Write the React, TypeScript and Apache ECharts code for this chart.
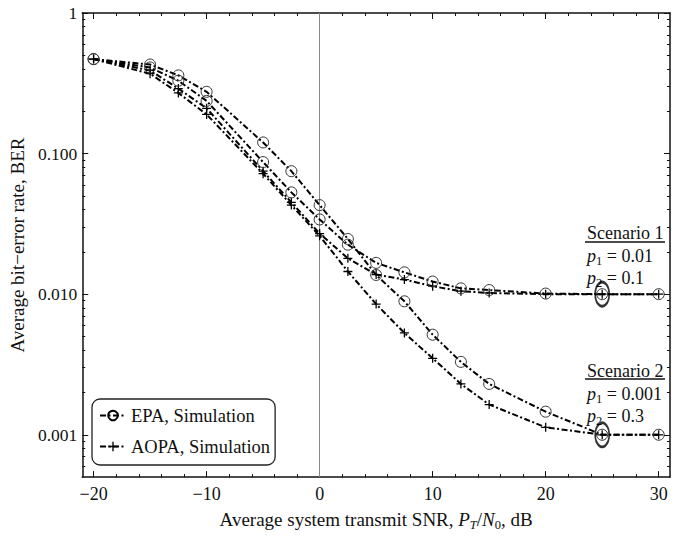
import React, { useEffect, useRef } from 'react';
import * as echarts from 'echarts';

// ---------- data ----------
const snrDb = [-20, -15, -12.5, -10, -5, -2.5, 0, 2.5, 5, 7.5, 10, 12.5, 15, 20, 25, 30];
const epaScenario1 = [0.47, 0.41, 0.33, 0.237, 0.087, 0.053, 0.034, 0.0225, 0.0167, 0.0143, 0.0123, 0.011, 0.0107, 0.0101, 0.01, 0.01];
const epaScenario2 = [0.47, 0.43, 0.36, 0.275, 0.12, 0.075, 0.043, 0.0247, 0.0137, 0.0089, 0.00515, 0.0033, 0.0023, 0.00146, 0.001, 0.001];
const aopaScenario1 = [0.47, 0.39, 0.29, 0.21, 0.075, 0.045, 0.027, 0.018, 0.0138, 0.0127, 0.0114, 0.0105, 0.0102, 0.01, 0.01, 0.01];
const aopaScenario2 = [0.47, 0.37, 0.27, 0.19, 0.072, 0.043, 0.026, 0.0145, 0.0085, 0.0053, 0.0035, 0.0023, 0.00164, 0.00113, 0.001, 0.001];
const highlighted = [[25, 0.01], [25, 0.001]];

const xMajorTicks = [-20, -10, 0, 10, 20, 30];
const xMinorTicks = [-20, -18, -16, -14, -12, -10, -8, -6, -4, -2, 0, 2, 4, 6, 8, 10, 12, 14, 16, 18, 20, 22, 24, 26, 28, 30];
const yMajorTicks = [0.001, 0.01, 0.1, 1];
const yMinorTicks = [
  0.0006, 0.0007, 0.0008, 0.0009,
  0.002, 0.003, 0.004, 0.005, 0.006, 0.007, 0.008, 0.009,
  0.02, 0.03, 0.04, 0.05, 0.06, 0.07, 0.08, 0.09,
  0.2, 0.3, 0.4, 0.5, 0.6, 0.7, 0.8, 0.9,
];
const xRange = [-21, 31];
const yRange = [0.0005, 1];

const legendNames = ['EPA, Simulation', 'AOPA, Simulation'];

// ---------- styles ----------
const FONT = '"Liberation Serif", "Times New Roman", serif';
const INK = '#111';
const dashDot = [6, 2.5, 2, 2.5];
const crossPath = 'path://M4.3,0H5.7V10H4.3Z M0,4.3H10V5.7H0Z';

const toPairs = (ys: number[]) => snrDb.map((x, i) => [x, ys[i]]);

const xAxisDef = (position: string, ticks: number[], len: number, labels: boolean, line: boolean, extra: any = {}) => ({
  type: 'value',
  min: xRange[0],
  max: xRange[1],
  position,
  axisLine: { show: line, onZero: false, lineStyle: { color: INK, width: 1.5 } },
  axisTick: { show: true, inside: true, length: len, customValues: ticks, lineStyle: { color: INK, width: 1 } },
  axisLabel: labels
    ? {
        show: true,
        customValues: ticks,
        margin: 8,
        fontFamily: FONT,
        fontSize: 18,
        color: INK,
        formatter: (v: number) => (v < 0 ? '\u2212' + Math.abs(v) : String(v)),
      }
    : { show: false },
  splitLine: { show: false },
  ...extra,
});

const yAxisDef = (position: string, ticks: number[], len: number, labels: boolean, line: boolean, extra: any = {}) => ({
  type: 'log',
  logBase: 10,
  min: yRange[0],
  max: yRange[1],
  position,
  axisLine: { show: line, onZero: false, lineStyle: { color: INK, width: 1.5 } },
  axisTick: { show: true, inside: true, length: len, customValues: ticks, lineStyle: { color: INK, width: 1 } },
  axisLabel: labels
    ? {
        show: true,
        customValues: ticks,
        margin: 5,
        fontFamily: FONT,
        fontSize: 17.5,
        color: INK,
        formatter: (v: number) => (v > 0.5 ? '1' : v.toFixed(3)),
      }
    : { show: false },
  splitLine: { show: false },
  minorTick: { show: false },
  ...extra,
});

const lineSeries = (name: string, ys: number[], kind: 'circle' | 'cross', extra: any = {}) => ({
  type: 'line',
  name,
  data: toPairs(ys),
  xAxisIndex: 0,
  yAxisIndex: 0,
  symbol: kind === 'circle' ? 'circle' : crossPath,
  symbolSize: kind === 'circle' ? 11 : 9,
  showAllSymbol: true,
  symbolKeepAspect: true,
  lineStyle: { color: '#000', width: 2, type: dashDot },
  itemStyle:
    kind === 'circle'
      ? { color: 'rgba(255,255,255,0)', borderColor: '#333', borderWidth: 1 }
      : { color: '#000', borderWidth: 0 },
  emphasis: { disabled: true },
  z: kind === 'circle' ? 4 : 3,
  ...extra,
});

const sub = { fontFamily: FONT, fontSize: 12.5, color: INK, verticalAlign: 'bottom', lineHeight: 23 };
const subIt = { ...sub, fontStyle: 'italic' };
const ital = { fontFamily: FONT, fontSize: 18, fontStyle: 'italic', color: INK, lineHeight: 20 };
const norm = { fontFamily: FONT, fontSize: 18, color: INK, lineHeight: 20 };
const nameRich = {
  i: { ...ital, fontSize: 19 },
  s: sub,
  si: subIt,
  n: { ...norm, fontSize: 19 },
};

const annoText = (x: number, y: number, text: string) => ({
  type: 'text',
  x,
  y,
  silent: true,
  style: {
    text,
    fill: INK,
    fontFamily: FONT,
    fontSize: 18,
    verticalAlign: 'middle',
    align: 'left',
    rich: { i: ital, s: sub, n: norm },
  },
});

const underline = (x1: number, x2: number, y: number) => ({
  type: 'line',
  silent: true,
  shape: { x1, y1: y, x2, y2: y },
  style: { stroke: INK, lineWidth: 1.3 },
});

export default function App() {
  const ref = useRef<HTMLDivElement>(null);

  useEffect(() => {
    const chart = echarts.init(ref.current as HTMLDivElement, null, { renderer: 'svg' });
    const option: any = {
      animation: false,
      backgroundColor: '#fff',
      grid: { left: 80, right: 11, top: 13, bottom: 53 },
      xAxis: [
        xAxisDef('bottom', xMajorTicks, 6, true, true, {
          name: '{n|Average system transmit SNR, }{i|P}{si|T}{n|/}{i|N}{s|0}{n|, dB}',
          nameLocation: 'middle',
          nameGap: 29,
          nameTextStyle: {
            fontFamily: FONT,
            fontSize: 19,
            color: INK,
            lineHeight: 20,
            rich: nameRich,
          },
        }),
        xAxisDef('bottom', xMinorTicks, 3, false, false),
        xAxisDef('top', xMajorTicks, 6, false, true),
        xAxisDef('top', xMinorTicks, 3, false, false),
      ],
      yAxis: [
        yAxisDef('left', yMajorTicks, 6, true, true, {
          name: 'Average bit\u2212error rate, BER',
          nameLocation: 'middle',
          nameGap: 52,
          nameTextStyle: { fontFamily: FONT, fontSize: 19, color: INK },
        }),
        yAxisDef('left', yMinorTicks, 3, false, false),
        yAxisDef('right', yMajorTicks, 6, false, true),
        yAxisDef('right', yMinorTicks, 3, false, false),
      ],
      legend: {
        left: 92,
        top: 399,
        orient: 'vertical',
        selectedMode: false,
        data: [
          { name: legendNames[0], itemStyle: { borderColor: '#000', borderWidth: 2 } },
          { name: legendNames[1] },
        ],
        itemWidth: 26,
        itemHeight: 12,
        itemGap: 12,
        padding: [7, 5, 9, 7],
        borderColor: '#222',
        borderWidth: 1.3,
        borderRadius: 8,
        backgroundColor: '#fff',
        textStyle: { fontFamily: FONT, fontSize: 18.5, color: INK },
      },
      series: [
        lineSeries(legendNames[0], epaScenario2, 'circle', {
          markLine: {
            silent: true,
            symbol: ['none', 'none'],
            label: { show: false },
            lineStyle: { color: '#888', width: 1, type: 'solid' },
            data: [{ xAxis: 0 }],
            z: 1,
          },
        }),
        lineSeries(legendNames[0], epaScenario1, 'circle'),
        lineSeries(legendNames[1], aopaScenario1, 'cross'),
        lineSeries(legendNames[1], aopaScenario2, 'cross'),
        {
          type: 'scatter',
          name: 'highlight',
          data: highlighted,
          symbol: 'circle',
          symbolSize: [14, 24],
          itemStyle: { color: 'rgba(255,255,255,0)', borderColor: '#000', borderWidth: 2.2 },
          emphasis: { disabled: true },
          silent: true,
          z: 6,
        },
      ],
      graphic: [
        annoText(587, 233, '{n|Scenario 1}'),
        underline(585, 665, 242),
        annoText(587, 256, '{i|p}{s|1}{n| = 0.01}'),
        annoText(587, 278, '{i|p}{s|2}{n| = 0.1}'),
        annoText(587, 371, '{n|Scenario 2}'),
        underline(585, 665, 379),
        annoText(587, 394, '{i|p}{s|1}{n| = 0.001}'),
        annoText(587, 416, '{i|p}{s|2}{n| = 0.3}'),
      ],
    };
    chart.setOption(option);
    return () => chart.dispose();
  }, []);

  return (
    <div
      ref={ref}
      style={{ position: 'fixed', left: 0, top: 0, width: 681, height: 536, background: '#fff' }}
    />
  );
}
